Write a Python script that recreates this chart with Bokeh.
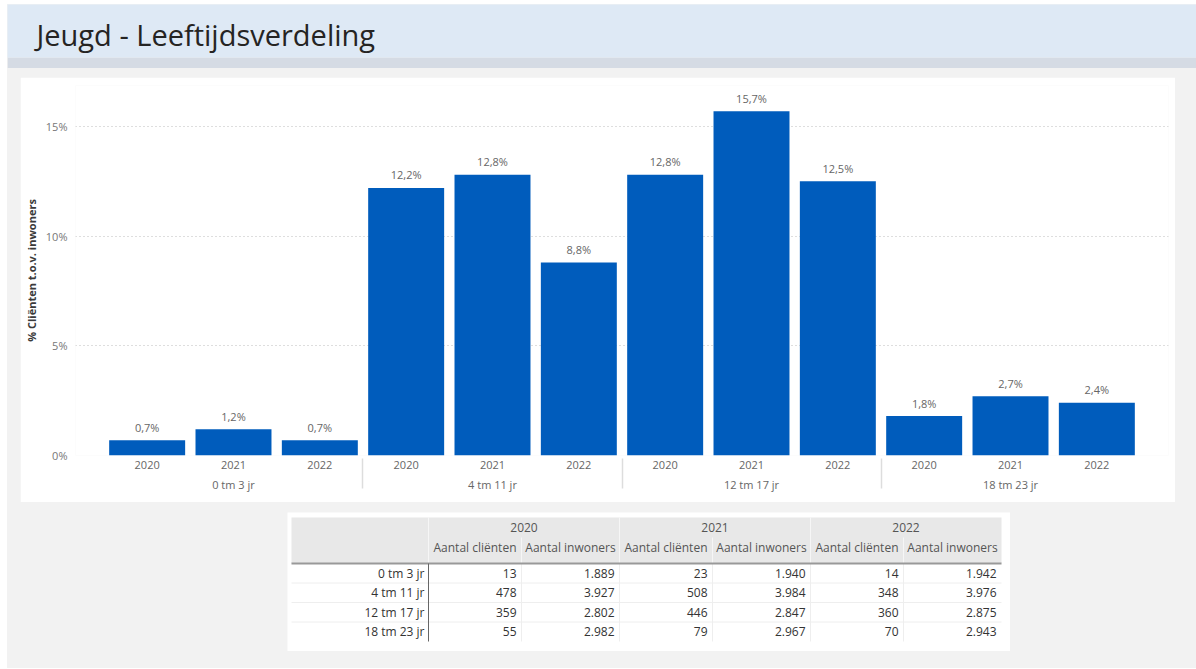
from bokeh.plotting import figure
from bokeh.layouts import column
from bokeh.models import (ColumnDataSource, FactorRange, Range1d, FixedTicker,
                          PrintfTickFormatter)
from bokeh.core.properties import value
from bokeh.embed import file_html
from bokeh.resources import INLINE

# ---------------- data ----------------
TITLE = "Jeugd - Leeftijdsverdeling"
Y_LABEL = "% Cliënten t.o.v. inwoners"
age_groups = ["0 tm 3 jr", "4 tm 11 jr", "12 tm 17 jr", "18 tm 23 jr"]
years = ["2020", "2021", "2022"]

pct_2020 = [0.7, 12.2, 12.8, 1.8]
pct_2021 = [1.2, 12.8, 15.7, 2.7]
pct_2022 = [0.7, 8.8, 12.5, 2.4]

clients_2020 = [13, 478, 359, 55]
inhabitants_2020 = [1889, 3927, 2802, 2982]
clients_2021 = [23, 508, 446, 79]
inhabitants_2021 = [1940, 3984, 2847, 2967]
clients_2022 = [14, 348, 360, 70]
inhabitants_2022 = [1942, 3976, 2875, 2943]

y_ticks = [0, 5, 10, 15]
col_headers = ["Aantal cliënten", "Aantal inwoners"]

FONT = "Open Sans"
BAR = "#005CBC"
PAGE_BG = "#f2f2f2"
PAGE_W = 1189

# ---------------- header ----------------
head = figure(width=PAGE_W, height=64, x_range=Range1d(0, PAGE_W), y_range=Range1d(0, 53),
              x_axis_type=None, y_axis_type=None, toolbar_location=None,
              output_backend="svg", min_border_left=0, min_border_right=0,
              min_border_top=0, min_border_bottom=11, frame_align=False)
head.background_fill_color = "#dee9f5"
head.border_fill_color = "#d5dbe4"
head.outline_line_color = None
head.grid.visible = False
head.text(x=[29], y=[23], text=[TITLE], text_font=value(FONT), text_font_size="29px",
          text_color="#252423", text_align="left", text_baseline="middle")

# ---------------- bar chart ----------------
pct_by_year = {"2020": pct_2020, "2021": pct_2021, "2022": pct_2022}
factors = [(g, y) for g in age_groups for y in years]
pcts = [pct_by_year[y][i] for i, g in enumerate(age_groups) for y in years]
labels = [f"{v:.1f}".replace(".", ",") + "%" for v in pcts]
src = ColumnDataSource(dict(x=factors, top=pcts, label=labels))

xr = FactorRange(factors=factors, group_padding=0, subgroup_padding=0, factor_padding=0,
                 range_padding=0.33, range_padding_units="absolute")
p = figure(width=1155, height=425, x_range=xr, y_range=Range1d(0, 16.87),
           toolbar_location=None, output_backend="svg",
           min_border_left=55, min_border_right=7, min_border_top=8, min_border_bottom=47,
           margin=(9, 0, 0, 13), frame_align=False)
p.background_fill_color = "white"
p.border_fill_color = "white"
p.outline_line_color = None

p.vbar(x="x", top="top", width=0.88, source=src, fill_color=BAR, line_color=None)
p.text(x="x", y="top", text="label", source=src, text_align="center",
       text_baseline="alphabetic", y_offset=-13, text_font=value(FONT),
       text_font_size="11px", text_color="#666666")

p.xgrid.visible = False
p.ygrid.grid_line_color = "#bdbdbd"
p.ygrid.grid_line_dash = "1 3"
p.ygrid.grid_line_width = 1

p.yaxis.ticker = FixedTicker(ticks=y_ticks)
p.yaxis.formatter = PrintfTickFormatter(format="%d%%")
p.yaxis.axis_line_color = None
p.yaxis.major_tick_line_color = None
p.yaxis.minor_tick_line_color = None
p.yaxis.major_tick_out = 0
p.yaxis.major_tick_in = 0
p.yaxis.major_label_standoff = 8
p.yaxis.major_label_text_font = FONT
p.yaxis.major_label_text_font_size = "11px"
p.yaxis.major_label_text_color = "#777777"
p.yaxis.axis_label = Y_LABEL
p.yaxis.axis_label_text_font = FONT
p.yaxis.axis_label_text_font_size = "11px"
p.yaxis.axis_label_text_font_style = "bold"
p.yaxis.axis_label_text_color = "#3a3a3a"
p.yaxis.axis_label_standoff = 4

p.xaxis.axis_line_color = None
p.xaxis.major_tick_line_color = None
p.xaxis.minor_tick_line_color = None
p.xaxis.major_tick_out = 0
p.xaxis.major_tick_in = 0
p.xaxis.major_label_standoff = 5
p.xaxis.major_label_text_font = FONT
p.xaxis.major_label_text_font_size = "11px"
p.xaxis.major_label_text_color = "#666666"
p.xaxis.major_label_text_line_height = 0.9
p.xaxis.group_text_font = FONT
p.xaxis.group_text_font_size = "11px"
p.xaxis.group_text_font_style = "normal"
p.xaxis.group_text_color = "#666666"
p.xaxis.group_text_line_height = 0.9
p.xaxis.separator_line_color = "#dddddd"
p.xaxis.separator_line_width = 1.5

# ---------------- table ----------------
TW, TH = 723, 139
t = figure(width=TW, height=TH, x_range=Range1d(0, TW), y_range=Range1d(TH, 0),
           x_axis_type=None, y_axis_type=None, toolbar_location=None,
           output_backend="svg", min_border=0, margin=(10, 0, 17, 280), frame_align=False)
t.background_fill_color = "white"
t.border_fill_color = "white"
t.outline_line_color = None
t.grid.visible = False

left = 4
label_w = 137
sub_w = [93, 98]
year_w = sum(sub_w)
hdr_top, hdr_mid, hdr_bot = 5, 25, 51
row_h = 19.5
n_rows = len(age_groups)
right = left + label_w + year_w * len(years)
body_bot = hdr_bot + row_h * n_rows

t.quad(left=[left], right=[right], top=[hdr_top], bottom=[hdr_bot],
       fill_color="#e8e8e8", line_color=None)

data_left = left + label_w
year_lefts = [data_left + j * year_w for j in range(len(years))]
sub_edges = [yl + sub_w[0] for yl in year_lefts]

# header vertical separators
t.segment(x0=year_lefts, y0=[hdr_top] * len(years), x1=year_lefts, y1=[hdr_bot] * len(years),
          line_color="#f6f6f6", line_width=1)
t.segment(x0=sub_edges, y0=[hdr_mid] * len(years), x1=sub_edges, y1=[hdr_bot] * len(years),
          line_color="#f6f6f6", line_width=1)
# body vertical separators
t.segment(x0=year_lefts[1:] + sub_edges, y0=[hdr_bot] * 5,
          x1=year_lefts[1:] + sub_edges, y1=[body_bot] * 5,
          line_color="#eeeeee", line_width=1)
# row separators
row_lines = [hdr_bot + row_h * (i + 1) for i in range(n_rows - 1)]
t.segment(x0=[left] * len(row_lines), y0=row_lines, x1=[right] * len(row_lines), y1=row_lines,
          line_color="#eeeeee", line_width=1)
# header bottom line and label column line
t.segment(x0=[left], y0=[hdr_bot], x1=[right], y1=[hdr_bot], line_color="#999999", line_width=2)
t.segment(x0=[data_left], y0=[hdr_bot], x1=[data_left], y1=[body_bot], line_color="#666666",
          line_width=1)

# header texts
t.text(x=[yl + year_w / 2 for yl in year_lefts], y=[(hdr_top + hdr_mid) / 2] * len(years),
       text=years, text_align="center", text_baseline="middle", text_font=value(FONT),
       text_font_size="12px", text_color="#555555")
sub_x, sub_t = [], []
for yl in year_lefts:
    sub_x += [yl + sub_w[0] / 2, yl + sub_w[0] + sub_w[1] / 2]
    sub_t += col_headers
t.text(x=sub_x, y=[(hdr_mid + hdr_bot) / 2 - 3] * len(sub_x), text=sub_t, text_align="center",
       text_baseline="middle", text_font=value(FONT), text_font_size="12px",
       text_color="#555555")

row_y = [hdr_bot + row_h * (i + 0.5) for i in range(n_rows)]
t.text(x=[data_left - 4] * n_rows, y=row_y, text=age_groups, text_align="right",
       text_baseline="middle", text_font=value(FONT), text_font_size="12px",
       text_color="#333333")


def fmt(n):
    return f"{n:,}".replace(",", ".")


cols = [clients_2020, inhabitants_2020, clients_2021, inhabitants_2021,
        clients_2022, inhabitants_2022]
cx, cy, ct = [], [], []
for k, vals in enumerate(cols):
    j, s = divmod(k, 2)
    col_right = year_lefts[j] + (sub_w[0] if s == 0 else year_w)
    for i, v in enumerate(vals):
        cx.append(col_right - 5)
        cy.append(row_y[i])
        ct.append(fmt(v))
t.text(x=cx, y=cy, text=ct, text_align="right", text_baseline="middle",
       text_font=value(FONT), text_font_size="12px", text_color="#333333")

layout = column(head, p, t, styles={"background-color": PAGE_BG}, margin=(4, 0, 0, 7))

open("out.html", "w").write(file_html(layout, INLINE))
